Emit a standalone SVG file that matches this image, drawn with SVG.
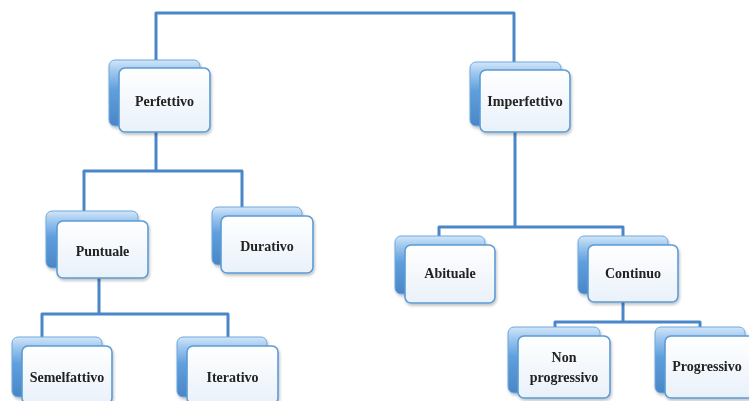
<svg xmlns="http://www.w3.org/2000/svg" width="749" height="401" viewBox="0 0 749 401">
  <defs>
    <linearGradient id="backFill" x1="0" y1="0" x2="0" y2="1">
      <stop offset="0" stop-color="#d3e6f8"/>
      <stop offset="0.18" stop-color="#9cc6ee"/>
      <stop offset="0.45" stop-color="#5f9fdd"/>
      <stop offset="1" stop-color="#4a86c6"/>
    </linearGradient>
    <linearGradient id="frontFill" x1="0" y1="0" x2="0" y2="1">
      <stop offset="0" stop-color="#ffffff"/>
      <stop offset="1" stop-color="#e9f1fa"/>
    </linearGradient>
    <filter id="soft" x="-10%" y="-10%" width="130%" height="130%">
      <feGaussianBlur in="SourceAlpha" stdDeviation="1.5"/>
      <feOffset dx="1" dy="2"/>
      <feComponentTransfer><feFuncA type="linear" slope="0.25"/></feComponentTransfer>
      <feMerge><feMergeNode/><feMergeNode in="SourceGraphic"/></feMerge>
    </filter>
  </defs>
  <style>
    .link { fill: none; stroke: #4a86c8; stroke-width: 3; stroke-linejoin: round; stroke-linecap: butt; }
    .back { fill: url(#backFill); stroke: #6fa8de; stroke-width: 1; }
    .front { fill: url(#frontFill); stroke: #5b9bd5; stroke-width: 1.6; }
    .label { font-family: "Liberation Serif", "DejaVu Serif", serif; font-size: 14px; font-weight: bold; fill: #222; text-anchor: middle; dominant-baseline: central; }
  </style>
  <rect width="749" height="401" fill="#ffffff"/>

  <!-- connectors -->
  <g id="connectors">
    <path class="link" d="M156,60 V13 H514 V64"/>
    <path class="link" d="M156,132 V171 M84,211 V171 H242 V207"/>
    <path class="link" d="M515,132 V227 M439,236 V227 H623 V236"/>
    <path class="link" d="M99,278 V314 M42,337 V314 H228 V337"/>
    <path class="link" d="M623,302 V322 M555,327 V322 H700 V327"/>
  </g>

  <!-- nodes -->
  <g id="perfettivo" filter="url(#soft)">
    <rect class="back" x="109" y="60" width="91" height="66" rx="6"/>
    <rect class="front" x="119" y="68" width="91" height="64" rx="6"/>
    <text class="label" x="164.5" y="101">Perfettivo</text>
  </g>
  <g id="imperfettivo" filter="url(#soft)">
    <rect class="back" x="470" y="62" width="91" height="64" rx="6"/>
    <rect class="front" x="480" y="70" width="90" height="62" rx="6"/>
    <text class="label" x="525" y="101">Imperfettivo</text>
  </g>
  <g id="puntuale" filter="url(#soft)">
    <rect class="back" x="46" y="211" width="92" height="57" rx="6"/>
    <rect class="front" x="57" y="221" width="91" height="57" rx="6"/>
    <text class="label" x="102.5" y="251">Puntuale</text>
  </g>
  <g id="durativo" filter="url(#soft)">
    <rect class="back" x="212" y="207" width="90" height="58" rx="6"/>
    <rect class="front" x="221" y="216" width="92" height="57" rx="6"/>
    <text class="label" x="267" y="246">Durativo</text>
  </g>
  <g id="abituale" filter="url(#soft)">
    <rect class="back" x="395" y="236" width="90" height="58" rx="6"/>
    <rect class="front" x="405" y="245" width="90" height="58" rx="6"/>
    <text class="label" x="450" y="273">Abituale</text>
  </g>
  <g id="continuo" filter="url(#soft)">
    <rect class="back" x="578" y="236" width="90" height="58" rx="6"/>
    <rect class="front" x="588" y="245" width="90" height="57" rx="6"/>
    <text class="label" x="633" y="273">Continuo</text>
  </g>
  <g id="semelfattivo" filter="url(#soft)">
    <rect class="back" x="12" y="337" width="90" height="60" rx="6"/>
    <rect class="front" x="22" y="346" width="90" height="58" rx="6"/>
    <text class="label" x="67" y="377">Semelfattivo</text>
  </g>
  <g id="iterativo" filter="url(#soft)">
    <rect class="back" x="177" y="337" width="90" height="60" rx="6"/>
    <rect class="front" x="187" y="346" width="91" height="58" rx="6"/>
    <text class="label" x="232.5" y="377">Iterativo</text>
  </g>
  <g id="non-progressivo" filter="url(#soft)">
    <rect class="back" x="508" y="327" width="92" height="66" rx="6"/>
    <rect class="front" x="518" y="336" width="92" height="62" rx="6"/>
    <text class="label" x="564" y="357">Non</text>
    <text class="label" x="564" y="377">progressivo</text>
  </g>
  <g id="progressivo" filter="url(#soft)">
    <rect class="back" x="655" y="327" width="90" height="66" rx="6"/>
    <rect class="front" x="665" y="336" width="90" height="62" rx="6"/>
    <text class="label" x="707" y="366">Progressivo</text>
  </g>
</svg>
